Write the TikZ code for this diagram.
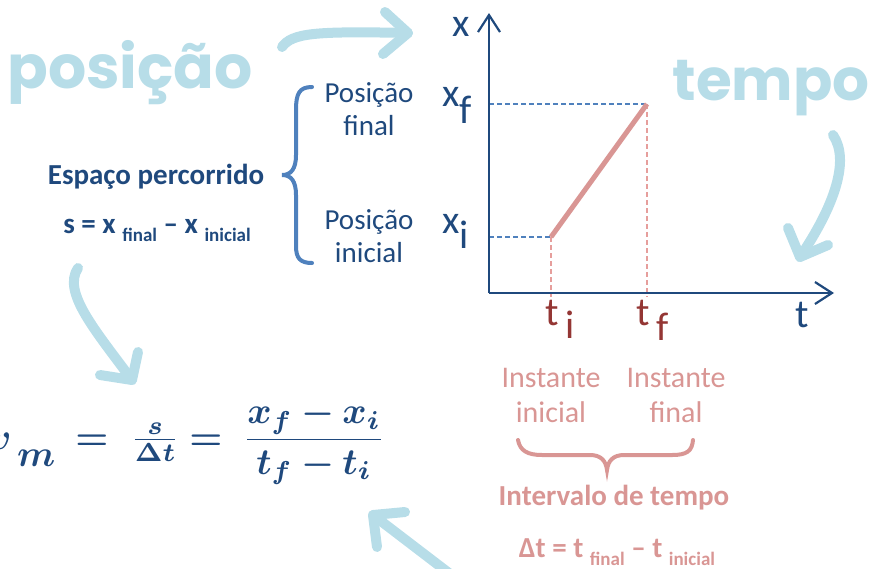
\documentclass[tikz,border=0pt]{standalone}
\usepackage{amsmath,bm}
\usepackage{fontspec}
\setmainfont{Carlito}
\newfontfamily\decofont{Poppins}
\usetikzlibrary{arrows.meta}
\definecolor{dblue}{RGB}{31,73,125}
\definecolor{mblue}{RGB}{79,129,189}
\definecolor{lblue}{RGB}{183,221,232}
\definecolor{lred}{RGB}{217,150,148}
\definecolor{dred}{RGB}{148,54,52}
\definecolor{dashred}{RGB}{230,158,156}
\newcommand{\subtx}[1]{{\fontsize{19}{19}\selectfont\raisebox{-8pt}{#1}}}
\begin{document}
\begin{tikzpicture}[x=1pt,y=-1pt,
  lbl/.style={inner sep=0pt, anchor=base},
  deco/.style={lbl, font=\decofont\bfseries\fontsize{60}{60}\selectfont, text=lblue},
  boldtx/.style={lbl, font=\bfseries\fontsize{29}{29}\selectfont},
  normtx/.style={lbl, align=center, font=\fontsize{29}{33}\selectfont},
  axlbl/.style={lbl, anchor=base west, font=\fontsize{40}{40}\selectfont},
  fml/.style={lbl, text=dblue, scale=3.7, font=\normalsize},
  sketch/.style={draw=lblue, line width=10pt, line cap=round, line join=round},
  axisln/.style={draw=dblue, line width=2.2pt, -{Straight Barb[length=17pt,width=22pt]}},
  bluedash/.style={draw=mblue, line width=1.6pt, dash pattern=on 5pt off 3pt},
  reddash/.style={draw=dashred, line width=1.6pt, dash pattern=on 5pt off 3pt},
  bracebl/.style={draw=mblue, line width=4pt, line cap=round},
  bracerd/.style={draw=lred, line width=4pt, line cap=round}]
\useasboundingbox (0,0) rectangle (875,568);

% decorative words
\node[deco] (posicao) at (130,88) {posição};
\node[deco, font=\decofont\bfseries\fontsize{58}{58}\selectfont] (tempo) at (771,100) {tempo};

% decorative arrows
\coordinate (a1s) at (282,47); \coordinate (a1t) at (408,33);
\draw[sketch] (a1s) .. controls (292,33) and (315,31) .. (a1t);
\draw[sketch] (385,12) -- (a1t) -- (383,54);
\coordinate (a2s) at (833,135); \coordinate (a2t) at (800,257);
\draw[sketch] (a2s) .. controls (850,160) and (835,205) .. (a2t);
\draw[sketch] (788,228) -- (a2t) -- (828,245);
\coordinate (a3s) at (78,268); \coordinate (a3t) at (132,380);
\draw[sketch] (a3s) .. controls (62,292) and (95,330) .. (a3t);
\draw[sketch] (138,352) -- (a3t) -- (100,375);
\coordinate (a4s) at (458,580); \coordinate (a4t) at (373,515);
\draw[sketch] (a4s) -- (a4t);
\draw[sketch] (405,512) -- (a4t) -- (377,547);

% left texts
\node[boldtx, text=dblue] (espaco) at (156,184) {Espaço percorrido};
\node[boldtx, text=dblue] (seq) at (157,233) {s = x \subtx{final} – x \subtx{inicial}};
\node[normtx, text=dblue] (pf) at (369,135) {Posição\\final};
\node[normtx, text=dblue] (pi) at (369,262) {Posição\\inicial};

% blue brace
\draw[bracebl] (312,87) .. controls (299,87) and (296,94) .. (296,110) -- (296,155)
  .. controls (296,169) and (291,175) .. (282,175)
  .. controls (291,175) and (296,181) .. (296,195) -- (296,246)
  .. controls (296,258) and (300,263) .. (312,263);

% graph
\coordinate (O) at (489,293);
\coordinate (ytop) at (489,13);
\coordinate (xend) at (834,293);
\coordinate (F) at (647,104);
\coordinate (I) at (551,237);
\coordinate (yF) at (489,104);
\coordinate (yI) at (489,237);
\coordinate (tF) at (647,297);
\coordinate (tI) at (551,297);
\draw[bluedash] (yF) -- (F);
\draw[bluedash] (yI) -- (I);
\draw[reddash] (F) -- (tF);
\draw[reddash] (I) -- (tI);
\draw[axisln] (O) -- (ytop);
\draw[axisln] (O) -- (xend);
\draw[draw=lred, line width=5pt] (I) -- (F);

\node[axlbl, text=dblue] (xlab) at (452,36) {x};
\node[axlbl, text=dblue] (xflab) at (442,106) {x\raisebox{-17pt}{f}};
\node[axlbl, text=dblue] (xilab) at (442,233) {x\raisebox{-15pt}{i}};
\node[axlbl, text=dred] (tilab) at (545,325) {t\,\raisebox{-13pt}{i}};
\node[axlbl, text=dred] (tflab) at (636,325) {t\,\raisebox{-15pt}{f}};
\node[axlbl, text=dblue] (tlab) at (795,327) {t};

% lower right texts
\node[normtx, text=lred, font=\fontsize{30}{35}\selectfont] (tini) at (551,422) {Instante\\inicial};
\node[normtx, text=lred, font=\fontsize{30}{35}\selectfont] (tfin) at (676,422) {Instante\\final};
\draw[bracerd] (518,440) .. controls (520,451) and (528,455) .. (542,455) -- (590,455)
  .. controls (601,455) and (606,461) .. (607,470)
  .. controls (608,461) and (613,455) .. (624,455) -- (672,455)
  .. controls (687,455) and (692,451) .. (693,440);
\node[boldtx, text=lred] (intervalo) at (614,505) {Intervalo de tempo};
\node[boldtx, text=lred] (dt) at (617,557) {Δt = t \subtx{final} – t \subtx{inicial}};

% formula
\node[fml, anchor=base east] (vm) at (56,449) {$\bm{v}\kern1.5pt\lower4.6pt\hbox{$\bm{m}$}$};
\node[fml] (eq1) at (92,449) {$\bm{=}$};
\node[fml] (sdt) at (155,449) {$\frac{\bm{s}}{\bm{\Delta t}}$};
\node[fml] (eq2) at (206,449) {$\bm{=}$};
\node[fml] (frac) at (314,449) {$\dfrac{\bm{x_f - x_i}}{\bm{t_f - t_i}}$};
\end{tikzpicture}
\end{document}
